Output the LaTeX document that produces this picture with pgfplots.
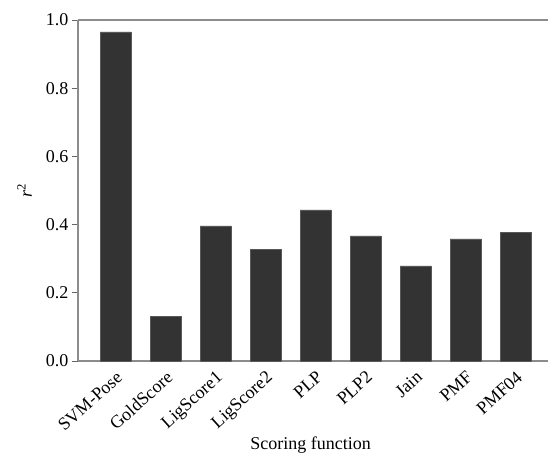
\documentclass[border=0pt]{standalone}
\usepackage{pgfplots}
\pgfplotsset{compat=1.18}
\usepackage{fontspec}
\setmainfont{Liberation Serif}
\begin{document}
\begin{tikzpicture}
\path[use as bounding box] (-78pt,-95pt) rectangle (470pt,341pt+20pt);
\begin{axis}[
  scale only axis,
  width=470pt, height=341pt,
  at={(0,0)}, anchor=south west,
  xmin=-0.75, xmax=8.65,
  ymin=0, ymax=1,
  ytick={0,0.2,0.4,0.6,0.8,1.0},
  yticklabel style={/pgf/number format/fixed,/pgf/number format/fixed zerofill,/pgf/number format/precision=1},
  /pgf/number format/assume math mode=true,
  xtick={0,1,2,3,4,5,6,7,8},
  xticklabels={SVM-Pose,GoldScore,LigScore1,LigScore2,PLP,PLP2,Jain,PMF,PMF04},
  xticklabel style={rotate=42, anchor=north east, inner sep=2pt},
  major x tick style={draw=none},
  tick style={draw=gray!80!black, line width=1pt},
  tick align=outside,
  major tick length=6pt,
  axis x line*=bottom, axis y line*=left,
  axis line style={draw=gray!90, line width=1.3pt},
  ticklabel style={font=\fontsize{18}{20}\selectfont},
  xlabel={Scoring function},
  ylabel={\textit{r}\textsuperscript{2}},
  label style={font=\fontsize{18}{20}\selectfont},
  xlabel style={at={(rel axis cs:0.495,0)}, anchor=base, yshift=-88pt},
  ylabel style={at={(rel axis cs:0,0.5)}, anchor=base, rotate=0, yshift=46pt},
  ybar, bar width=31pt,
  clip=false,
]
\addplot[fill=black!80, draw=black!65, line width=0.6pt] coordinates {
(0,0.965) (1,0.130) (2,0.396) (3,0.328) (4,0.443) (5,0.367) (6,0.279) (7,0.358) (8,0.378)
};
\draw[gray!90, line width=1.3pt] (rel axis cs:0,1) -- (rel axis cs:1,1);
\end{axis}
\end{tikzpicture}
\end{document}
